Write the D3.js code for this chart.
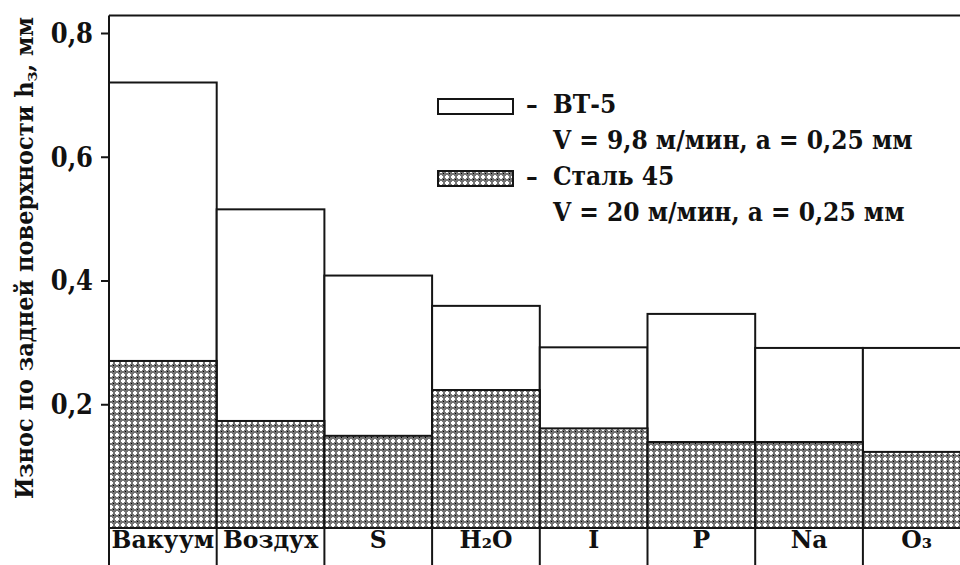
<!DOCTYPE html>
<html>
<head>
<meta charset="utf-8">
<script src="https://cdn.jsdelivr.net/npm/d3@7"></script>
<style>
  html, body { margin: 0; padding: 0; background: #fff; }
  svg { display: block; }
  text { font-family: "DejaVu Serif", serif; font-stretch: condensed; font-weight: bold; fill: #111; }
  text.cat { font-stretch: normal; }
</style>
</head>
<body>
<svg id="chart" width="960" height="565"></svg>
<script>
// Wear on the flank face in different media
const categories = ["Вакуум", "Воздух", "S", "H₂O", "I", "P", "Na", "O₃"];
const bt5Values = [0.720, 0.515, 0.408, 0.359, 0.292, 0.346, 0.291, 0.291];
const steelValues = [0.270, 0.173, 0.149, 0.223, 0.161, 0.139, 0.139, 0.123];
const yTicks = [0.2, 0.4, 0.6, 0.8];
const legendItems = [
  { name: "ВТ-5", note: "V = 9,8 м/мин,  а = 0,25 мм", fill: "#fff" },
  { name: "Сталь 45", note: "V = 20 м/мин,  а = 0,25 мм", fill: "url(#cross)" }
];

const svg = d3.select("#chart");
const W = 960, H = 565;
const left = 109, plotTop = 15.5, base = 528;
const ink = "#151515";

// Dotted cross fill for the steel series
const defs = svg.append("defs");
const pat = defs.append("pattern")
  .attr("id", "cross").attr("patternUnits", "userSpaceOnUse")
  .attr("width", 6).attr("height", 6);
pat.append("rect").attr("width", 6).attr("height", 6).attr("fill", "#737373");
pat.append("rect").attr("x", 2).attr("y", 1).attr("width", 2).attr("height", 4).attr("fill", "#fff");
pat.append("rect").attr("x", 1).attr("y", 2).attr("width", 4).attr("height", 2).attr("fill", "#fff");
pat.append("rect").attr("x", 5).attr("y", 5).attr("width", 1).attr("height", 1).attr("fill", "#000");

const x = d3.scaleBand().domain(categories).range([left, left + 8 * 107.7]).padding(0);
const y = d3.scaleLinear().domain([0, 0.8]).range([base, 33]);

// Frame: top line
svg.append("line")
  .attr("x1", left).attr("x2", W).attr("y1", plotTop).attr("y2", plotTop)
  .attr("stroke", ink).attr("stroke-width", 2);

// BT-5 bars (white)
svg.append("g").selectAll("rect")
  .data(categories)
  .join("rect")
  .attr("x", d => x(d))
  .attr("y", (d, i) => y(bt5Values[i]))
  .attr("width", x.bandwidth())
  .attr("height", (d, i) => y(0) - y(bt5Values[i]))
  .attr("fill", "#fff").attr("stroke", ink).attr("stroke-width", 2);

// Steel 45 bars (patterned)
svg.append("g").selectAll("rect")
  .data(categories)
  .join("rect")
  .attr("x", d => x(d))
  .attr("y", (d, i) => y(steelValues[i]))
  .attr("width", x.bandwidth())
  .attr("height", (d, i) => y(0) - y(steelValues[i]))
  .attr("fill", "url(#cross)").attr("stroke", ink).attr("stroke-width", 2);

// Category row: separators below the baseline
svg.append("g").selectAll("line")
  .data(categories)
  .join("line")
  .attr("x1", d => x(d)).attr("x2", d => x(d))
  .attr("y1", base).attr("y2", H)
  .attr("stroke", ink).attr("stroke-width", 2);
svg.append("line")
  .attr("x1", left).attr("x2", W).attr("y1", base).attr("y2", base)
  .attr("stroke", ink).attr("stroke-width", 2);

// Category labels with subscripts
const labelG = svg.append("g");
categories.forEach(c => {
  const t = labelG.append("text")
    .attr("class", "cat")
    .attr("x", x(c) + x.bandwidth() / 2)
    .attr("y", 548)
    .attr("text-anchor", "middle")
    .attr("font-size", 23.5);
  const m = c.match(/^(.*?)([\u2080-\u2089]?)(.*)$/);
  if (m[2]) {
    const sub = String.fromCharCode(m[2].charCodeAt(0) - 0x2080 + 48);
    t.append("tspan").text(m[1]);
    t.append("tspan").attr("font-size", 15).attr("dy", 3).attr("font-style", c === "O₃" ? "italic" : null).text(sub);
    if (m[3]) t.append("tspan").attr("dy", -3).text(m[3]);
  } else {
    t.text(c);
  }
});

// Y axis
const yAxis = d3.axisLeft(y).tickValues(yTicks).tickSize(8).tickPadding(8)
  .tickFormat(d => d3.format(".1f")(d).replace(".", ","));
const ag = svg.append("g").attr("transform", `translate(${left},0)`).call(yAxis);
ag.attr("font-family", null);
ag.select(".domain").attr("d", `M0,${plotTop}V${H}`).attr("stroke", ink).attr("stroke-width", 2);
ag.selectAll(".tick line").attr("stroke", ink).attr("stroke-width", 2);
ag.selectAll(".tick text")
  .attr("font-size", 27).attr("fill", "#111").attr("dy", "0.35em");

// Y axis title
const yt = svg.append("text")
  .attr("transform", "translate(33,258) rotate(-90)")
  .attr("text-anchor", "middle")
  .attr("font-size", 25);
yt.append("tspan").text("Износ по задней поверхности h");
yt.append("tspan").attr("font-size", 17).attr("dy", 4).text("з");
yt.append("tspan").attr("dy", -4).text(", мм");

// Legend
const lg = svg.append("g");
legendItems.forEach((d, i) => {
  const oy = i * 72;
  lg.append("rect")
    .attr("x", 438).attr("y", 99 + oy).attr("width", 75).attr("height", 15)
    .attr("fill", d.fill).attr("stroke", ink).attr("stroke-width", 2);
  lg.append("text").attr("x", 526).attr("y", 113 + oy).attr("font-size", 26).text("–");
  lg.append("text").attr("x", 553).attr("y", 113 + oy).attr("font-size", 26).text(d.name);
  lg.append("text").attr("x", 553).attr("y", 149 + oy).attr("font-size", 26).text(d.note);
});
</script>
</body>
</html>
